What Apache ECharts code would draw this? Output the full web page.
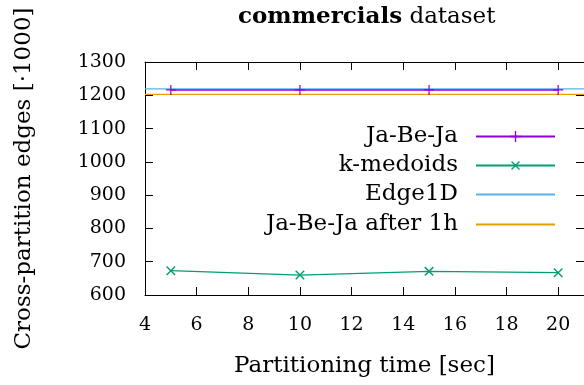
<!DOCTYPE html>
<html>
<head>
    <meta charset="utf-8">
    <title>commercials dataset</title>
    <script src="https://cdn.jsdelivr.net/npm/echarts@6/dist/echarts.min.js"></script>
    <style>
        body { margin: 0; background: #fff; }
    </style>
</head>
<body>
    <div id="main" style="width: 584px;height:385px;"></div>
    <script type="text/javascript">
// partitioning time [sec]
var times = [5, 10, 15, 20];
// cross-partition edges [*1000]
var jabeja = [1216, 1216, 1216, 1216];
var kmedoids = [673, 660, 671, 667];
// constant reference lines, drawn across the whole x range
var lineX = [4, 21];
var edge1d = [1219, 1219];
var jabejaAfter1h = [1203, 1203];

var xTicks = { min: 4, max: 21, step: 2 };
var yTicks = { min: 600, max: 1300, step: 100 };

var FONT = '"DejaVu Serif", serif';
var pairs = function (xs, ys) {
    var res = [];
    for (var i = 0; i < xs.length; i++) {
        res.push([xs[i], ys[i]]);
    }
    return res;
};

var plusPath = 'path://M0,4.4 L10,4.4 L10,5.6 L0,5.6 Z M4.4,0 L5.6,0 L5.6,10 L4.4,10 Z';

var chart = echarts.init(document.getElementById('main'));

var serif = function (size, weight) {
    return { fontFamily: FONT, fontSize: size, fontWeight: weight || 'normal', color: '#000' };
};

var legendRow = function (name, top, noMark) {
    var lg = {
        data: [name],
        right: 28,
        top: top,
        align: 'right',
        orient: 'vertical',
        padding: 0,
        itemWidth: 79,
        itemHeight: 14,
        selectedMode: false,
        textStyle: { fontFamily: FONT, fontSize: 23, color: '#000', padding: [0, 13, 0, 0] }
    };
    if (noMark) {
        lg.itemStyle = { opacity: 0 };
    }
    return lg;
};

var innerTick = { show: true, inside: true, length: 8, lineStyle: { color: '#000', width: 1 } };
var plain = function (v) { return String(v); };

chart.setOption({
    animation: false,
    backgroundColor: '#fff',
    textStyle: { fontFamily: FONT },
    title: {
        text: '{b|commercials}{s| dataset}',
        left: 238,
        top: 6,
        padding: 0,
        textStyle: {
            fontFamily: FONT, fontSize: 23, fontWeight: 'normal', color: '#000',
            rich: { b: serif(23, 'bold'), s: serif(23) }
        }
    },
    grid: { left: 145, top: 62, width: 446, height: 233, containLabel: false },
    legend: [
        legendRow('Ja-Be-Ja', 125, false),
        legendRow('k-medoids', 154, false),
        legendRow('Edge1D', 183, true),
        legendRow('Ja-Be-Ja after 1h', 213, true)
    ],
    xAxis: [{
        type: 'value',
        min: xTicks.min, max: xTicks.max, interval: xTicks.step,
        name: 'Partitioning time [sec]',
        nameLocation: 'middle',
        nameGap: 60,
        nameTextStyle: { fontFamily: FONT, fontSize: 23, color: '#000' },
        axisLine: { show: true, lineStyle: { color: '#000', width: 1 } },
        axisTick: innerTick,
        axisLabel: { fontFamily: FONT, fontSize: 19, color: '#000', margin: 21, showMaxLabel: false, formatter: plain },
        splitLine: { show: false }
    }, {
        type: 'value', position: 'top',
        min: xTicks.min, max: xTicks.max, interval: xTicks.step,
        axisLine: { show: true, lineStyle: { color: '#000', width: 1 } },
        axisTick: innerTick,
        axisLabel: { show: false },
        splitLine: { show: false }
    }],
    yAxis: [{
        type: 'value',
        min: yTicks.min, max: yTicks.max, interval: yTicks.step,
        name: 'Cross-partition edges [\u00b71000]',
        nameLocation: 'middle',
        nameGap: 109,
        nameTextStyle: { fontFamily: FONT, fontSize: 23, color: '#000' },
        axisLine: { show: true, lineStyle: { color: '#000', width: 1 } },
        axisTick: innerTick,
        axisLabel: { fontFamily: FONT, fontSize: 19, color: '#000', margin: 19, formatter: plain },
        splitLine: { show: false }
    }, {
        type: 'value', position: 'right',
        min: yTicks.min, max: yTicks.max, interval: yTicks.step,
        axisLine: { show: true, lineStyle: { color: '#000', width: 1 } },
        axisTick: innerTick,
        axisLabel: { show: false },
        splitLine: { show: false }
    }],
    series: [{
        name: 'Ja-Be-Ja',
        type: 'line',
        data: pairs(times, jabeja),
        symbol: plusPath,
        symbolSize: 10,
        lineStyle: { color: '#9400d3', width: 1.5 },
        itemStyle: { color: '#9400d3' },
        z: 4
    }, {
        name: 'k-medoids',
        type: 'line',
        data: pairs(times, kmedoids),
        symbol: plusPath,
        symbolRotate: 45,
        symbolSize: 12,
        lineStyle: { color: '#009e73', width: 1.2 },
        itemStyle: { color: '#009e73' },
        z: 4
    }, {
        name: 'Edge1D',
        type: 'line',
        data: pairs(lineX, edge1d),
        symbol: 'none',
        lineStyle: { color: '#56b4e9', width: 1.2 },
        itemStyle: { color: '#56b4e9' },
        z: 3
    }, {
        name: 'Ja-Be-Ja after 1h',
        type: 'line',
        data: pairs(lineX, jabejaAfter1h),
        symbol: 'none',
        lineStyle: { color: '#e69f00', width: 1.2 },
        itemStyle: { color: '#e69f00' },
        z: 3
    }]
});
    </script>
</body>
</html>
